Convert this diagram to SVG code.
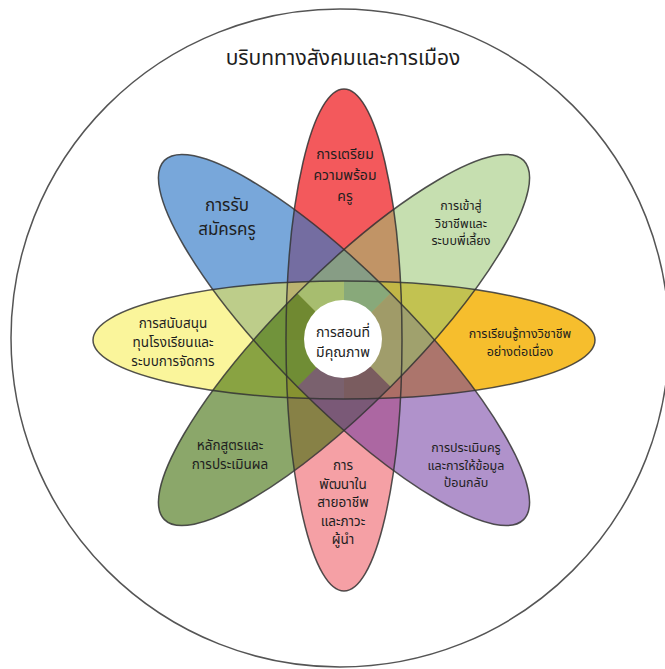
<svg xmlns="http://www.w3.org/2000/svg" width="665" height="669" viewBox="0 0 665 669">
<style>
text{font-family:"Noto Sans Thai","Noto Sans","DejaVu Sans",sans-serif;fill:#1e1e1e;text-anchor:middle}
.p{font-size:13.5px}
.s{font-size:12.5px}
.outline{fill:none;stroke:#333;stroke-width:1.5;stroke-opacity:0.85}
</style>
<rect width="665" height="669" fill="#fff"/>
<circle id="context" cx="340" cy="338" r="329" fill="none" stroke="#555" stroke-width="1.5"/>
<text x="343" y="65" style="font-size:21px">บริบททางสังคมและการเมือง</text>
<g transform="translate(344,340)">
<g id="red"><path transform="rotate(90)" d="M0,-58 A251,58 0 0 0 0,58 Z" fill="rgb(237,0,5)" fill-opacity="0.65"/></g>
<g id="pink"><path transform="rotate(90)" d="M0,-58 A251,58 0 0 1 0,58 Z" fill="rgb(237,82,91)" fill-opacity="0.55"/></g>
<g id="orange"><path d="M0,-59 A251,59 0 0 1 0,59 Z" fill="rgb(245,179,8)" fill-opacity="0.85"/></g>
<g id="blue"><path transform="rotate(45)" d="M0,-66 A254,66 0 0 0 0,66 Z" fill="rgb(48,120,198)" fill-opacity="0.65"/></g>
<g id="yellow"><path d="M0,-59 A251,59 0 0 0 0,59 Z" fill="rgb(246,237,73)" fill-opacity="0.55"/></g>
<g id="darkgreen"><path transform="rotate(-45)" d="M0,-66 A254,66 0 0 0 0,66 Z" fill="rgb(62,108,7)" fill-opacity="0.6"/></g>
<g id="purple"><path transform="rotate(45)" d="M0,-66 A254,66 0 0 1 0,66 Z" fill="rgb(111,57,160)" fill-opacity="0.55"/></g>
<g id="lightgreen"><path transform="rotate(-45)" d="M0,-66 A254,66 0 0 1 0,66 Z" fill="rgb(151,197,111)" fill-opacity="0.55"/></g>
<g id="outlines">
<ellipse class="outline" rx="251" ry="58" transform="rotate(90)"/>
<ellipse class="outline" rx="251" ry="59"/>
<ellipse class="outline" rx="254" ry="66" transform="rotate(45)"/>
<ellipse class="outline" rx="254" ry="66" transform="rotate(-45)"/>
</g>
<g id="center"><circle cx="-1" cy="-1" r="39" fill="#fff"/></g>
</g>
<g id="labels">
<text style="font-size:14px"><tspan x="345" y="159">การเตรียม</tspan><tspan x="345" y="180">ความพร้อม</tspan><tspan x="345" y="201">ครู</tspan></text>
<text style="font-size:17px"><tspan x="227" y="211">การรับ</tspan><tspan x="227" y="235">สมัครครู</tspan></text>
<text class="s"><tspan x="461" y="210">การเข้าสู่</tspan><tspan x="461" y="227.5">วิชาชีพและ</tspan><tspan x="461" y="245">ระบบพี่เลี้ยง</tspan></text>
<text class="p"><tspan x="173" y="328">การสนับสนุน</tspan><tspan x="173" y="347">ทุนโรงเรียนและ</tspan><tspan x="173" y="366">ระบบการจัดการ</tspan></text>
<text style="font-size:14px"><tspan x="343" y="337">การสอนที่</tspan><tspan x="343" y="357">มีคุณภาพ</tspan></text>
<text class="s"><tspan x="520" y="338">การเรียนรู้ทางวิชาชีพ</tspan><tspan x="520" y="355.5">อย่างต่อเนื่อง</tspan></text>
<text class="p"><tspan x="230" y="450">หลักสูตรและ</tspan><tspan x="230" y="469">การประเมินผล</tspan></text>
<text class="p"><tspan x="343" y="470">การ</tspan><tspan x="343" y="488.5">พัฒนาใน</tspan><tspan x="343" y="507">สายอาชีพ</tspan><tspan x="343" y="525.5">และภาวะ</tspan><tspan x="343" y="544">ผู้นำ</tspan></text>
<text class="s"><tspan x="466" y="452">การประเมินครู</tspan><tspan x="466" y="469.5">และการให้ข้อมูล</tspan><tspan x="466" y="487">ป้อนกลับ</tspan></text>
</g>
</svg>
